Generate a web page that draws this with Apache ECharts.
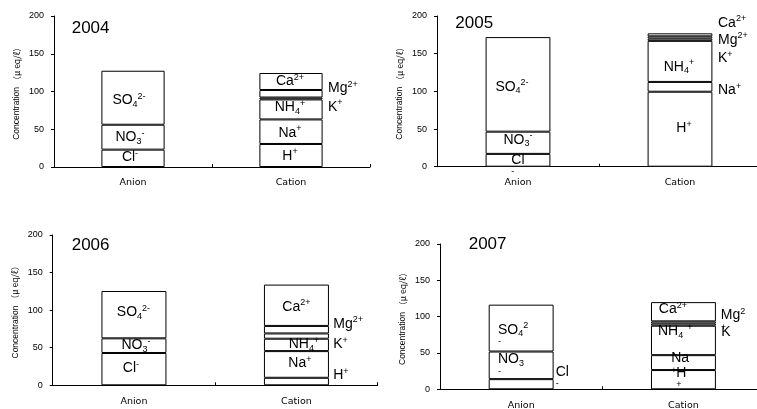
<!DOCTYPE html>
<html>
<head>
<meta charset="utf-8">
<script src="https://cdn.jsdelivr.net/npm/echarts@6/dist/echarts.min.js"></script>
<style>
html,body{margin:0;padding:0;background:#fff;}
#chart{width:757px;height:409px;}
</style>
</head>
<body>
<div id="chart"></div>
<script>
// ---- data ----
const years = ['2004', '2005', '2006', '2007'];
const categories = ['Anion', 'Cation'];
const anionIons = ['Cl', 'NO3', 'SO4'];
const cationIons = ['H', 'Na', 'NH4', 'K', 'Mg', 'Ca'];
const cl  = [23, 17, 43, 14];
const no3 = [33, 29.5, 19.5, 38];
const so4 = [71.5, 125.5, 63, 64.5];
const h   = [30.5, 99.5, 10, 26.5];
const na  = [32.5, 13, 35.5, 20.5];
const nh4 = [26.5, 54.5, 16.5, 40.5];
const k   = [2.5, 3, 7, 3];
const mg  = [10, 3, 10, 3];
const ca  = [22.5, 4, 55, 26.5];
const yTicks = [0, 50, 100, 150, 200];
const yNameMain = 'Concentration';
const yNameUnit = '（μ eq/ℓ）';

const values = { Cl: cl, NO3: no3, SO4: so4, H: h, Na: na, NH4: nh4, K: k, Mg: mg, Ca: ca };

// ---- layout / style ----
const FONT = '"Liberation Sans", Arial, sans-serif';
const CJK = '"Noto Sans CJK JP", "Liberation Sans", sans-serif';
const grids = [
  { left: 54, top: 16, width: 316, height: 151 },
  { left: 437, top: 16, width: 324, height: 150.7 },
  { left: 52.7, top: 235, width: 325, height: 150.3 },
  { left: 440, top: 244, width: 324.6, height: 145.3 }
];
const titlePos = [[71.7, 28.3], [455.3, 23.3], [71.7, 245.8], [468.7, 244.2]];

const defaultText = {
  Cl: '{m|Cl}{sup|-}',
  NO3: '{m|NO}{sub|3}{sup|-}',
  SO4: '{m|SO}{sub|4}{sup|2-}',
  H: '{m|H}{sup|+}',
  Na: '{m|Na}{sup|+}',
  NH4: '{m|NH}{sub|4}{sup|+}',
  K: '{m|K}{sup|+}',
  Mg: '{m|Mg}{sup|2+}',
  Ca: '{m|Ca}{sup|2+}'
};
const textOverride = [
  {},
  { Cl: '{m|Cl}\n{p|-}' },
  {},
  {
    Cl: '{m|Cl}\n{p|-}',
    NO3: '{m|NO}{sub|3}\n{p|-}',
    SO4: '{m|SO}{sub|4}{sup|2}\n{p|-}',
    H: '{m|H}\n{p|+}',
    Na: '{m|Na}\n{p|+}',
    NH4: '{m|NH}{sub|4}{far|+}',
    K: '{m|K}',
    Mg: '{m|Mg}{sup|2}\n{p|+}'
  }
];
// label placement: [align, dx, dy] relative to segment centre
const labelPlace = [
  { Cl: ['center', -3, -1.3], NO3: ['center', -3, 0], SO4: ['center', -4, 2.3],
    H: ['center', -1, 0.5], Na: ['center', -1, 1], NH4: ['center', -1, -2.4],
    K: ['left', 37, 8.5], Mg: ['left', 37, -5.5], Ca: ['center', -1, 0] },
  { Cl: ['left', -6.7, 3.2], NO3: ['center', 0, -2.8], SO4: ['center', -6, 2.3],
    H: ['center', 4, -0.9], Na: ['left', 38, 3.2], NH4: ['center', -1, 5.3],
    K: ['left', 38, 18.6], Mg: ['left', 38, 2.5], Ca: ['left', 38, -12.1] },
  { Cl: ['center', -3, -0.8], NO3: ['center', 2, -0.6], SO4: ['center', -0.5, -2.3],
    H: ['left', 36.8, -6.5], Na: ['center', 3.5, -1.4], NH4: ['center', 7.5, -0.6],
    K: ['left', 36.8, 8.2], Mg: ['left', 36.8, -5.7], Ca: ['center', 0, 1.5] },
  { Cl: ['left', 34.5, -9], NO3: ['left', -23.2, -2.8], SO4: ['left', -23.2, 5.4],
    H: ['left', -7.2, -3.5], Na: ['left', -12.2, -0.8], NH4: ['left', -25.5, -9.4],
    K: ['left', 37.9, 7.9], Mg: ['left', 37.3, -3.9], Ca: ['center', -10.5, -2.7] }
];

const base = { color: '#000', fontFamily: FONT, textBorderWidth: 0, textBorderColor: 'transparent', textShadowBlur: 0 };
const RICH = {
  m: Object.assign({}, base, { fontSize: 14, lineHeight: 17 }),
  sub: Object.assign({}, base, { fontSize: 9, lineHeight: 9, verticalAlign: 'bottom' }),
  sup: Object.assign({}, base, { fontSize: 9, lineHeight: 9, verticalAlign: 'top' }),
  p: Object.assign({}, base, { fontSize: 9, lineHeight: 7 }),
  far: Object.assign({}, base, { fontSize: 9, lineHeight: 1, verticalAlign: 'top', padding: [0, 0, 0, 4] })
};
const NAME_RICH = {
  a: Object.assign({}, base, { fontSize: 8.5, fontFamily: FONT }),
  b: Object.assign({}, base, { fontSize: 8.5, fontFamily: CJK })
};

const option = {
  animation: false,
  backgroundColor: '#fff',
  grid: [],
  xAxis: [],
  yAxis: [],
  series: [],
  graphic: []
};

years.forEach((yr, g) => {
  option.grid.push(Object.assign({ containLabel: false, outerBoundsMode: 'none' }, grids[g]));
  option.xAxis.push({
    type: 'category', gridIndex: g, data: categories,
    axisLine: { show: true, lineStyle: { color: '#000', width: 1 } },
    axisTick: { show: true, inside: true, length: 3, lineStyle: { color: '#000' } },
    axisLabel: { color: '#000', fontSize: 9.5, fontFamily: '"DejaVu Sans", sans-serif', margin: 11 },
    splitLine: { show: false }
  });
  option.yAxis.push({
    type: 'value', gridIndex: g, min: yTicks[0], max: yTicks[yTicks.length - 1],
    interval: yTicks[1] - yTicks[0],
    name: '{a|' + yNameMain + ' }{b|' + yNameUnit + '}',
    nameLocation: 'middle', nameGap: 33, nameRotate: 90,
    nameTextStyle: { color: '#000', fontSize: 8.5, fontFamily: FONT, rich: NAME_RICH },
    axisLine: { show: true, lineStyle: { color: '#000', width: 1 } },
    axisTick: { show: true, inside: false, length: 3, lineStyle: { color: '#000' } },
    axisLabel: { color: '#000', fontSize: 9, fontFamily: FONT, margin: 10 },
    splitLine: { show: false }
  });
  const mk = (ion, isAnion) => {
    const v = values[ion][g];
    const place = labelPlace[g][ion];
    const txt = (textOverride[g][ion]) || defaultText[ion];
    return {
      type: 'bar', name: ion, xAxisIndex: g, yAxisIndex: g, stack: 'p' + g,
      barWidth: '40%',
      data: isAnion ? [v, '-'] : ['-', v],
      itemStyle: { color: '#fff', borderColor: '#000', borderWidth: 1 },
      emphasis: { disabled: true },
      label: {
        show: true, position: 'inside', align: place[0], verticalAlign: 'middle',
        offset: [place[1], place[2]],
        formatter: txt, rich: RICH,
        color: '#000', fontFamily: FONT, fontSize: 14,
        textBorderWidth: 0, textBorderColor: 'transparent'
      }
    };
  };
  anionIons.forEach(ion => option.series.push(mk(ion, true)));
  cationIons.forEach(ion => option.series.push(mk(ion, false)));
  option.graphic.push({
    type: 'text', x: titlePos[g][0], y: titlePos[g][1],
    style: { text: yr, fontSize: 17, fontFamily: FONT, fill: '#000',
             align: 'left', verticalAlign: 'middle' }
  });
});

const chart = echarts.init(document.getElementById('chart'), null, { renderer: 'canvas' });
chart.setOption(option);
</script>
</body>
</html>
